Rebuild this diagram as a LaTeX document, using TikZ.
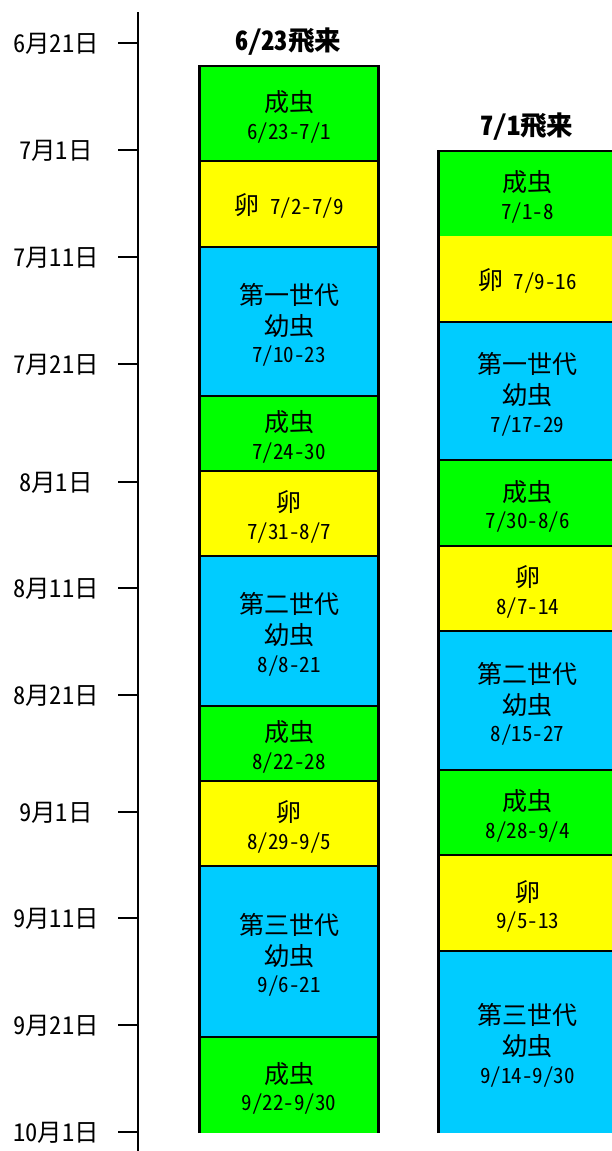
\documentclass[tikz,border=0pt]{standalone}
\usepackage{fontspec}
\setmainfont{Noto Sans CJK JP}[CharacterWidth=Half]
\definecolor{adultc}{HTML}{00FF00}
\definecolor{eggc}{HTML}{FFFF00}
\definecolor{larvac}{HTML}{00CCFF}
\newcommand\bigjp{\fontsize{25}{27.5}\selectfont}
\newcommand\smalljp{\fontsize{21}{27.5}\selectfont}
\begin{document}
\begin{tikzpicture}[x=1pt,y=-1pt,
  bd/.style={line width=2.6pt},
  axl/.style={font=\fontsize{24.5}{28}\selectfont, inner sep=0pt},
  ttl/.style={font=\fontsize{26.5}{30}\selectfont\bfseries, inner sep=0pt},
  lbox/.style={inner sep=0pt, outer sep=0pt, minimum width=179pt},
  rbox/.style={inner sep=0pt, outer sep=0pt, minimum width=178pt},
  txt/.style={inner sep=0pt, align=center, font=\smalljp},
  adult/.style={fill=adultc},
  egg/.style={fill=eggc},
  larva/.style={fill=larvac}]
\useasboundingbox (0,0) rectangle (611,1151);
% axis
\coordinate (atop) at (138,12);
\coordinate (abot) at (138,1151);
\draw[bd] (atop) -- (abot);
\foreach \y/\t [count=\i] in {43/6月21日,150/7月1日,257/7月11日,364/7月21日,482/8月1日,588/8月11日,695/8月21日,812/9月1日,918/9月11日,1025/9月21日,1132/10月1日}{
  \coordinate (k\i) at (118,\y);
  \draw[bd] (k\i) -- ++(20,0);
  \node[axl] (lab\i) at (56,\y+1) {\t};
}
% titles
\node[ttl] (tl) at (288,42) {6/23飛来};
\node[ttl] (tr) at (527,127) {7/1飛来};
% left column (x 199.5 .. 378.5)
\node[lbox,adult,minimum height=95pt] (L1) at (289,113.5) {};
\node[lbox,egg,minimum height=86pt] (L2) at (289,204) {};
\node[lbox,larva,minimum height=149pt] (L3) at (289,321.5) {};
\node[lbox,adult,minimum height=75pt] (L4) at (289,433.5) {};
\node[lbox,egg,minimum height=85pt] (L5) at (289,513.5) {};
\node[lbox,larva,minimum height=150pt] (L6) at (289,631) {};
\node[lbox,adult,minimum height=75pt] (L7) at (289,743.5) {};
\node[lbox,egg,minimum height=85pt] (L8) at (289,823.5) {};
\node[lbox,larva,minimum height=171pt] (L9) at (289,951.5) {};
\node[lbox,adult,minimum height=96pt] (L10) at (289,1085) {};
\node[txt] (L1t) at ([yshift=-3.5pt]L1.center) {{\bigjp 成虫}\\6/23-7/1};
\node[txt] (L2t) at ([yshift=-2pt]L2.center) {{\bigjp 卵} 7/2-7/9};
\node[txt] (L3t) at ([yshift=-3.5pt]L3.center) {{\bigjp 第一世代}\\[3.5pt]{\bigjp 幼虫}\\7/10-23};
\node[txt] (L4t) at ([yshift=-3.5pt]L4.center) {{\bigjp 成虫}\\7/24-30};
\node[txt] (L5t) at ([yshift=-3.5pt]L5.center) {{\bigjp 卵}\\7/31-8/7};
\node[txt] (L6t) at ([yshift=-3.5pt]L6.center) {{\bigjp 第二世代}\\[3.5pt]{\bigjp 幼虫}\\8/8-21};
\node[txt] (L7t) at ([yshift=-3.5pt]L7.center) {{\bigjp 成虫}\\8/22-28};
\node[txt] (L8t) at ([yshift=-3.5pt]L8.center) {{\bigjp 卵}\\8/29-9/5};
\node[txt] (L9t) at ([yshift=-3.5pt]L9.center) {{\bigjp 第三世代}\\[3.5pt]{\bigjp 幼虫}\\9/6-21};
\node[txt] (L10t) at ([yshift=-3.5pt]L10.center) {{\bigjp 成虫}\\9/22-9/30};
\draw[bd] (L10.south west) -- (L1.north west) -- (L1.north east) -- (L10.south east);
\foreach \i in {1,...,9}{\draw[bd] (L\i.south west) -- (L\i.south east);}
% right column (x 438.5 .. 616.5)
\node[rbox,adult,minimum height=85pt] (R1) at (527.5,193.5) {};
\node[rbox,egg,minimum height=86pt] (R2) at (527.5,279) {};
\node[rbox,larva,minimum height=138pt] (R3) at (527.5,391) {};
\node[rbox,adult,minimum height=86pt] (R4) at (527.5,503) {};
\node[rbox,egg,minimum height=85pt] (R5) at (527.5,588.5) {};
\node[rbox,larva,minimum height=139pt] (R6) at (527.5,700.5) {};
\node[rbox,adult,minimum height=85pt] (R7) at (527.5,812.5) {};
\node[rbox,egg,minimum height=96pt] (R8) at (527.5,903) {};
\node[rbox,larva,minimum height=182pt] (R9) at (527.5,1042) {};
\node[txt] (R1t) at ([yshift=-3.5pt]R1.center) {{\bigjp 成虫}\\7/1-8};
\node[txt] (R2t) at ([yshift=-2pt]R2.center) {{\bigjp 卵} 7/9-16};
\node[txt] (R3t) at ([yshift=-3.5pt]R3.center) {{\bigjp 第一世代}\\[3.5pt]{\bigjp 幼虫}\\7/17-29};
\node[txt] (R4t) at ([yshift=-3.5pt]R4.center) {{\bigjp 成虫}\\7/30-8/6};
\node[txt] (R5t) at ([yshift=-3.5pt]R5.center) {{\bigjp 卵}\\8/7-14};
\node[txt] (R6t) at ([yshift=-3.5pt]R6.center) {{\bigjp 第二世代}\\[3.5pt]{\bigjp 幼虫}\\8/15-27};
\node[txt] (R7t) at ([yshift=-3.5pt]R7.center) {{\bigjp 成虫}\\8/28-9/4};
\node[txt] (R8t) at ([yshift=-3.5pt]R8.center) {{\bigjp 卵}\\9/5-13};
\node[txt] (R9t) at ([yshift=-3.5pt]R9.center) {{\bigjp 第三世代}\\[3.5pt]{\bigjp 幼虫}\\9/14-9/30};
\draw[bd] (R9.south west) -- (R1.north west) -- (R1.north east);
\foreach \i in {2,...,8}{\draw[bd] (R\i.south west) -- (R\i.south east);}
\end{tikzpicture}
\end{document}
